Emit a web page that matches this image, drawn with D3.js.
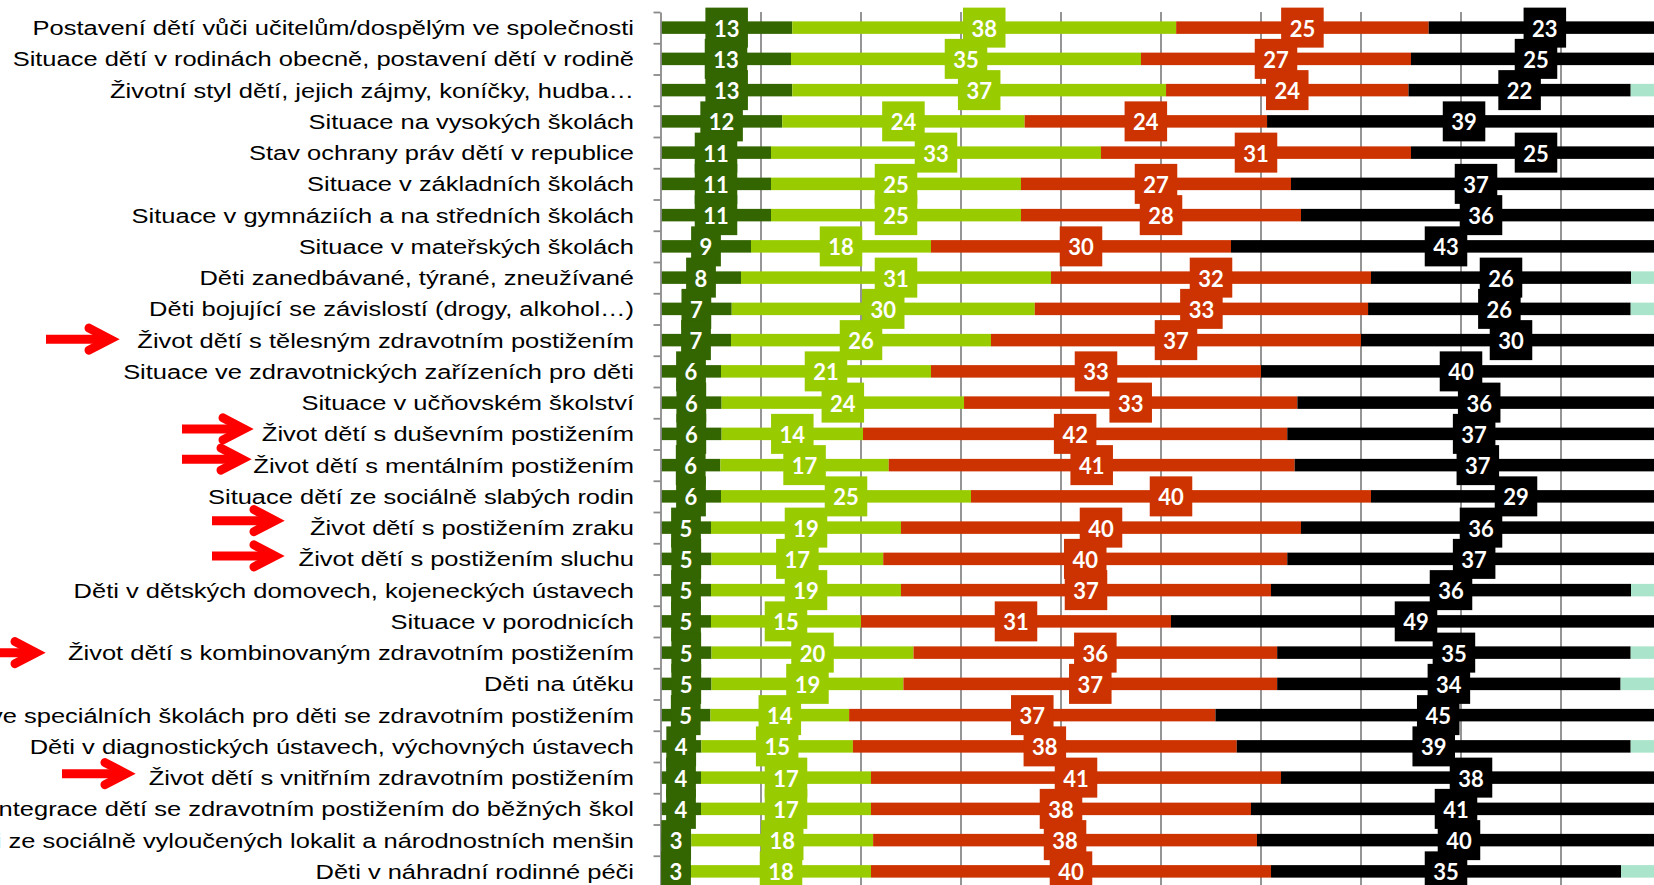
<!DOCTYPE html>
<html>
<head>
<meta charset="utf-8">
<script src="https://cdn.jsdelivr.net/npm/d3@7"></script>
<style>
  html, body { margin:0; padding:0; background:#fff; }
  svg { display:block; }
</style>
</head>
<body>
<svg id="chart" width="1654" height="885"></svg>
<script>
// categories, top to bottom
const categories = [
  "Postavení dětí vůči učitelům/dospělým ve společnosti",
  "Situace dětí v rodinách obecně, postavení dětí v rodině",
  "Životní styl dětí, jejich zájmy, koníčky, hudba…",
  "Situace na vysokých školách",
  "Stav ochrany práv dětí v republice",
  "Situace v základních školách",
  "Situace v gymnáziích a na středních školách",
  "Situace v mateřských školách",
  "Děti zanedbávané, týrané, zneužívané",
  "Děti bojující se závislostí (drogy, alkohol…)",
  "Život dětí s tělesným zdravotním postižením",
  "Situace ve zdravotnických zařízeních pro děti",
  "Situace v učňovském školství",
  "Život dětí s duševním postižením",
  "Život dětí s mentálním postižením",
  "Situace dětí ze sociálně slabých rodin",
  "Život dětí s postižením zraku",
  "Život dětí s postižením sluchu",
  "Děti v dětských domovech, kojeneckých ústavech",
  "Situace v porodnicích",
  "Život dětí s kombinovaným zdravotním postižením",
  "Děti na útěku",
  "Situace ve speciálních školách pro děti se zdravotním postižením",
  "Děti v diagnostických ústavech, výchovných ústavech",
  "Život dětí s vnitřním zdravotním postižením",
  "Integrace dětí se zdravotním postižením do běžných škol",
  "Děti ze sociálně vyloučených lokalit a národnostních menšin",
  "Děti v náhradní rodinné péči"
];

// series values (%)
const darkGreen  = [13,13,13,12,11,11,11, 9, 8, 7, 7, 6, 6, 6, 6, 6, 5, 5, 5, 5, 5, 5, 5, 4, 4, 4, 3, 3];
const lightGreen = [38,35,37,24,33,25,25,18,31,30,26,21,24,14,17,25,19,17,19,15,20,19,14,15,17,17,18,18];
const red        = [25,27,24,24,31,27,28,30,32,33,37,33,33,42,41,40,40,40,37,31,36,37,37,38,41,38,38,40];
const black      = [23,25,22,39,25,37,36,43,26,26,30,40,36,37,37,29,36,37,36,49,35,34,45,39,38,41,40,35];
const other      = [ 0, 0, 3, 0, 0, 0, 0, 0, 3, 3, 0, 0, 0, 0, 0, 0, 0, 0, 3, 0, 3, 4, 0, 3, 0, 0, 0, 4];

const seriesKeys = ["darkGreen","lightGreen","red","black","other"];
const seriesColors = ["#336600","#99cc00","#cc3300","#000000","#a9e4cb"];
const labelled = [true,true,true,true,false];

// red arrows pointing at some categories (row index, shaft start, tip, vertical nudge)
const arrows = [
  {row:10, x0:46,  tip:120, dy:-1},
  {row:13, x0:182, tip:254, dy:-5},
  {row:14, x0:182, tip:252, dy:-6},
  {row:16, x0:212, tip:285, dy:-7},
  {row:17, x0:212, tip:285, dy:-3},
  {row:20, x0:-5,  tip:46,  dy:0},
  {row:24, x0:62,  tip:136, dy:-4}
];

const table = categories.map((c,i)=>({
  cat:c, darkGreen:darkGreen[i], lightGreen:lightGreen[i], red:red[i], black:black[i], other:other[i]
}));

const svg = d3.select('#chart');
const m = {l:661, t:12};
const plotW = 1000, plotH = 875;

const x = d3.scaleLinear().domain([0,1]).range([m.l, m.l+plotW]);
const y = d3.scaleBand().domain(categories).range([m.t, m.t+plotH]).paddingInner(0.6).paddingOuter(0.3);
const yb = d3.scaleLinear().domain([0, categories.length]).range([m.t, m.t+plotH]);

const stacked = d3.stack().keys(seriesKeys).offset(d3.stackOffsetExpand)(table);

// gridlines
svg.append('g').selectAll('line')
  .data(x.ticks(10).filter(t=>t>0))
  .enter().append('line')
  .attr('x1', d=>x(d)).attr('x2', d=>x(d))
  .attr('y1', m.t).attr('y2', m.t+plotH)
  .attr('stroke', '#8a8a8a').attr('stroke-width', 1.8);

// bars
const layer = svg.append('g').selectAll('g')
  .data(stacked).enter().append('g')
  .attr('fill', (d,i)=>seriesColors[i]);
layer.selectAll('rect')
  .data(d=>d).enter().append('rect')
  .attr('x', d=>x(d[0]))
  .attr('width', d=>x(d[1])-x(d[0]))
  .attr('y', d=>y(d.data.cat))
  .attr('height', y.bandwidth());

// category axis (ticks at category boundaries)
const ax = svg.append('g')
  .attr('transform', `translate(${m.l-0.5},0)`)
  .call(d3.axisLeft(yb).ticks(categories.length).tickValues(d3.range(categories.length+1)).tickFormat('').tickSize(7).tickSizeOuter(0));
ax.selectAll('path,line').attr('stroke', '#8a8a8a').attr('stroke-width', 1.8);

// category labels
const labG = svg.append('g');
const labs = labG.selectAll('text')
  .data(categories).enter().append('text')
  .attr('x', 0)
  .attr('y', d=>y(d)+y.bandwidth()/2)
  .attr('dy', '0.36em')
  .attr('text-anchor', 'end')
  .attr('font-family', '"Liberation Sans", Arial, sans-serif')
  .attr('font-size', 21)
  .attr('fill', '#000')
  .text(d=>d);
// reference text is horizontally wide: stretch to match first label width
const w0 = labs.node().getComputedTextLength();
const sx = 602 / w0;
labG.attr('transform', `translate(634,0) scale(${sx},1)`);

// data labels (boxes in series colour)
stacked.forEach((s,si)=>{
  if(!labelled[si]) return;
  const g = svg.append('g');
  s.forEach((d,i)=>{
    const v = table[i][seriesKeys[si]];
    const cx = x((d[0]+d[1])/2);
    const cy = y(d.data.cat)+y.bandwidth()/2;
    const lg = g.append('g');
    const r = lg.append('rect').attr('fill', seriesColors[si]);
    const t = lg.append('text')
      .attr('x', cx).attr('y', cy+1)
      .attr('dy', '0.36em')
      .attr('text-anchor', 'middle')
      .attr('font-family', 'Lato, "Open Sans", sans-serif')
      .attr('font-weight', 700)
      .attr('font-size', 22)
      .attr('fill', '#fff')
      .text(v);
    const tw = t.node().getComputedTextLength();
    const bw = tw + 17, bh = 40;
    r.attr('x', cx-bw/2).attr('y', cy-bh/2).attr('width', bw).attr('height', bh);
  });
});

// arrows
const arG = svg.append('g').attr('stroke', '#ff0000').attr('fill', 'none').attr('stroke-width', 9);
arrows.forEach(a=>{
  const cy = y(categories[a.row]) + y.bandwidth()/2 + a.dy;
  const vx = a.tip - 10;
  arG.append('line')
    .attr('x1', a.x0).attr('x2', vx).attr('y1', cy).attr('y2', cy);
  arG.append('path')
    .attr('d', `M${vx-21},${cy-11}L${vx},${cy}L${vx-21},${cy+11}`)
    .attr('stroke-linecap', 'round')
    .attr('stroke-linejoin', 'miter');
});
</script>
</body>
</html>
